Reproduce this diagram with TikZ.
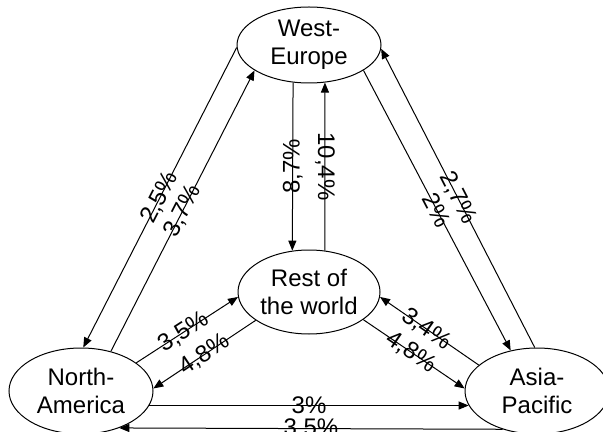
\documentclass[tikz,border=0pt]{standalone}
\usepackage{fontspec}
\setmainfont{Liberation Sans}
\usetikzlibrary{shapes.geometric, arrows.meta}
\tikzset{%
  region/.style={ellipse, draw, line width=0.5pt, inner sep=0pt, align=center,
    font=\fontsize{12}{14}\selectfont}, % the four regions
  pct/.style={inner sep=0pt, font=\fontsize{12}{14}\selectfont}, % the growth rates
  along/.style={pct, sloped},
  every edge/.style={%
    draw, -{Triangle[length=5pt, width=4pt]}, line width=0.5pt
  }
}

\begin{document}
\begin{tikzpicture}[x=0.5pt, y=-0.5pt]
  \useasboundingbox (0,0) rectangle (603,432);

  \node[region, minimum width=72pt, minimum height=38pt] (we) at (309,45) {West-\\Europe};
  \node[region, minimum width=71pt, minimum height=42pt] (rw) at (309,292) {Rest of\\the world};
  \node[region, minimum width=72pt, minimum height=43pt] (na) at (81,391) {North-\\America};
  \node[region, minimum width=72pt, minimum height=43pt] (ap) at (537,391) {Asia-\\Pacific};

  % West-Europe and North-America
  \draw (we.182) edge node[along] {2,5\%} (na.87);
  \draw (na.53) edge node[along] {3,7\%} (we.205);

  % West-Europe and the rest
  \draw (we.247) edge node[pct, rotate=90] {8,7\%} (rw.112);
  \draw (rw.69) edge node[pct, rotate=-90] {10,4\%} (we.293);

  % West-Europe and Asia-Pacific
  \draw (we.335) edge node[along] {2\%} (ap.123);
  \draw (ap.93) edge node[along] {2,7\%} (we.357);

  % the rest and North-America
  \draw (na.27) edge node[along, pos=0.47] {3,5\%} (rw.184);
  \draw (rw.208) edge node[along] {4,8\%} (na.2);

  % the rest and Asia-Pacific
  \draw (ap.156) edge node[along, pos=0.53] {3,4\%} (rw.356);
  \draw (rw.333) edge node[along, pos=0.47] {4,8\%} (ap.178);

  % North-America and Asia-Pacific
  \draw (na.348) edge node[pct] {3\%} (ap.192);
  \draw (ap.228) edge node[pct] {3,5\%} (na.316);
\end{tikzpicture}
\end{document}
